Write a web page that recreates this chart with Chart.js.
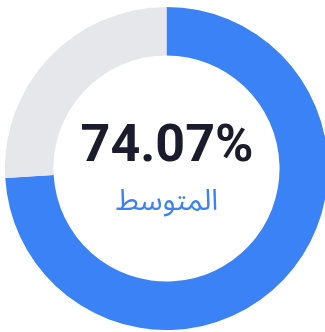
<!DOCTYPE html>
<html lang="ar">
<head>
<meta charset="utf-8">
<script src="https://cdn.jsdelivr.net/npm/chart.js@4"></script>
<style>
    html, body { margin: 0; padding: 0; background: #fff; overflow: hidden; width: 325px; height: 332px; }
    .wrap { position: relative; width: 325px; height: 332px; }
    #avgChart { position: absolute; left: 5px; top: 7px; }
    .center-label { position: absolute; left: 0; width: 334px; text-align: center; }
    .value { top: 111px; font-family: Roboto, "Noto Sans", sans-serif; font-weight: 700; font-size: 52px; color: #1c1b2e; line-height: 66px; }
    .caption { top: 179px; font-family: "Noto Sans Arabic", "DejaVu Sans", sans-serif; font-size: 29px; color: #3b82f6; line-height: 44px; direction: rtl; }
</style>
</head>
<body>
<div class="wrap">
    <canvas id="avgChart" width="323" height="323"></canvas>
    <div class="center-label value" id="avgValue"></div>
    <div class="center-label caption" id="avgCaption"></div>
</div>
<script>
// Average score ring
const segmentLabels = ['المتوسط', 'المتبقي'];
const segmentValues = [74.07, 25.93];
const segmentColors = ['#3b82f6', '#e5e7eb'];
const captionText = 'المتوسط';

document.getElementById('avgValue').textContent = segmentValues[0].toFixed(2) + '%';
document.getElementById('avgCaption').textContent = captionText;

new Chart(document.getElementById('avgChart'), {
    type: 'doughnut',
    data: {
        labels: segmentLabels,
        datasets: [{
            data: segmentValues,
            backgroundColor: segmentColors,
            borderWidth: 0
        }]
    },
    options: {
        responsive: false,
        animation: false,
        cutout: '70%',
        layout: { padding: 0 },
        plugins: {
            legend: { display: false },
            tooltip: { enabled: false }
        }
    }
});
</script>
</body>
</html>
